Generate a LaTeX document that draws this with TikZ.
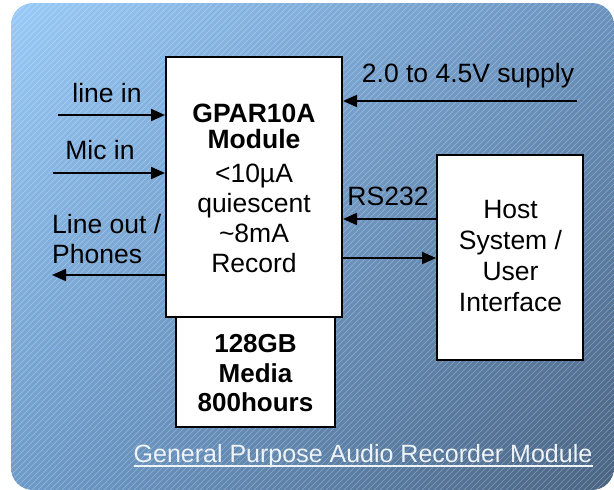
\documentclass[tikz,border=0pt]{standalone}
\usepackage{fontspec}
\setmainfont{Liberation Sans}
\usetikzlibrary{arrows.meta,shadings}
\definecolor{bgUL}{HTML}{9ACBF9}
\definecolor{bgUR}{HTML}{6A93BE}
\definecolor{bgLL}{HTML}{6E9CCB}
\definecolor{bgLR}{HTML}{4A6483}
\definecolor{capcol}{HTML}{EEF3F8}
\begin{document}
\begin{tikzpicture}[x=1pt,y=-1pt,
  box/.style={draw=black,line width=2pt,fill=white,inner sep=0pt},
  lbl/.style={font=\fontsize{26.5}{30}\selectfont,inner sep=0pt,anchor=base},
  arr/.style={line width=2pt,-{Triangle[length=14pt,width=12pt]}},
  hatch/.style={white,opacity=0.3,line width=0.5pt}]
\useasboundingbox (0,0) rectangle (614,490);
\fill[white] (0,0) rectangle (614,490);
\begin{scope}
  \path[clip,rounded corners=22pt] (11,3) rectangle (614,490);
  \shade[upper left=bgUL,upper right=bgUR,lower left=bgLL,lower right=bgLR] (0,0) rectangle (614,490);
  \foreach \i in {-490,-484,...,620} \draw[hatch] (\i,490) -- ++(490,-490);
\end{scope}

% boxes
\node[box,minimum width=159pt,minimum height=110pt] (media) at (255.5,372) {};
\node[box,minimum width=176pt,minimum height=260pt] (mod) at (254,187) {};
\node[box,minimum width=146pt,minimum height=205pt] (host) at (510,257.5) {};

% box texts (base anchor = baseline of last line)
\node[lbl,align=center] (modt) at (254,272.7) {\textbf{GPAR10A}\\[-4.4pt]\textbf{Module}\\[4.4pt]<10µA\\quiescent\\\textasciitilde8mA\\Record};
\node[lbl,align=center,font=\fontsize{26}{29.5}\selectfont\bfseries] (mediat) at (255.5,411.7) {128GB\\Media\\800hours};
\node[lbl,align=center,font=\fontsize{26.5}{31.1}\selectfont] (hostt) at (510.5,311.7) {Host\\System /\\User\\Interface};

% labels
\node[lbl] (lil) at (107,102) {line in};
\node[lbl] (mil) at (100,159) {Mic in};
\node[lbl,anchor=base west,align=left] (lol) at (52,263) {Line out /\\Phones};
\node[lbl] (spl) at (468,82) {2.0 to 4.5V supply};
\node[lbl] (rsl) at (388,205) {RS232};
\node[lbl,text=capcol,font=\fontsize{25}{30}\selectfont] (cap) at (363,462) {General Purpose Audio Recorder Module};
\draw[capcol,line width=1.5pt] ([yshift=-4pt]cap.base west) -- ([yshift=-4pt]cap.base east);

% connectors
\coordinate (li) at (58,115);
\coordinate (mi) at (53,173);
\coordinate (lo) at (52,275);
\coordinate (sp) at (577,101);
\coordinate (rs) at (0,219);
\coordinate (ho) at (0,258);
\draw[arr] (li) -- (li -| mod.west);
\draw[arr] (mi) -- (mi -| mod.west);
\draw[arr] (lo -| mod.west) -- (lo);
\draw[arr] (sp) -- (sp -| mod.east);
\draw[arr] (rs -| host.west) -- (rs -| mod.east);
\draw[arr] (ho -| mod.east) -- (ho -| host.west);
\end{tikzpicture}
\end{document}
